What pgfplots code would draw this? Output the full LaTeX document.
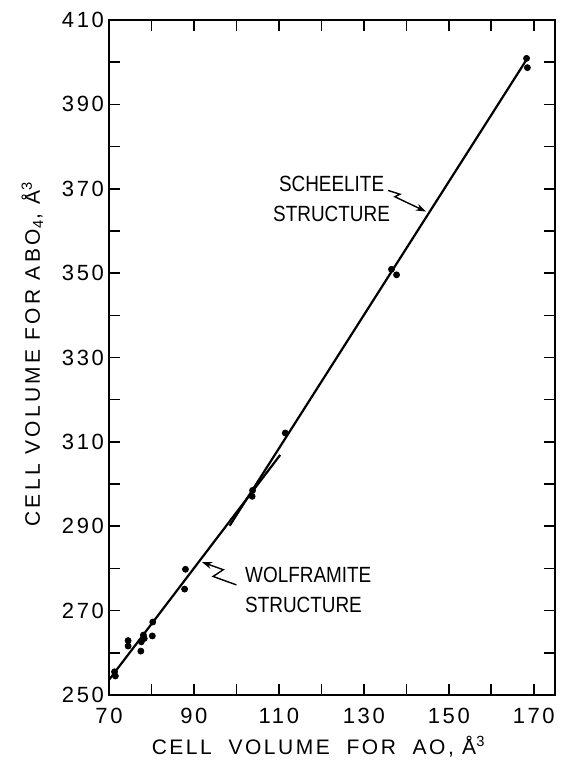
\documentclass[border=0pt]{standalone}
\usepackage{fontspec}
\setmainfont{Liberation Sans}
\newfontfamily\narrowfont[FakeStretch=0.86]{Liberation Sans}
\usepackage{pgfplots}
\pgfplotsset{compat=1.18}
\usetikzlibrary{arrows.meta}
\newcommand{\xlblfont}{\fontsize{10.5}{15}\selectfont\addfontfeature{LetterSpace=12}}
\newcommand{\ylblfont}{\fontsize{10.5}{15}\selectfont\addfontfeature{LetterSpace=16}}
\newcommand{\annfont}{\narrowfont\fontsize{11}{15}\selectfont}
\begin{document}
\begin{tikzpicture}
\begin{axis}[
  scale only axis,
  width=223pt, height=337.5pt,
  xmin=70, xmax=175, ymin=250, ymax=410,
  xtick={70,90,...,170}, minor xtick={80,100,...,160},
  ytick={250,270,...,410}, minor ytick={260,280,...,400},
  tick align=inside, tick pos=both,
  major tick length=5.5pt, minor tick length=5.5pt,
  every tick/.style={black, line width=0.8pt},
  axis line style={line width=0.9pt},
  /pgf/number format/assume math mode=true,
  ticklabel style={font=\fontsize{11}{12}\selectfont\addfontfeature{LetterSpace=12}},
  xticklabel style={yshift=-3pt},
  yticklabel style={xshift=1pt},
  xlabel={CELL\ \ VOLUME\ \ FOR\ \ AO,\ Å\textsuperscript{3}},
  ylabel={CELL VOLUME FOR ABO\textsubscript{4}, Å\textsuperscript{3}},
  xlabel style={at={(axis description cs:0.47,-0.076)}, anchor=center, font=\xlblfont},
  ylabel style={at={(axis description cs:-0.172,0.505)}, anchor=center, font=\ylblfont},
  clip=false,
]
\addplot[only marks, mark=*, mark size=1.5pt, black] coordinates {
 (71.3,255.5) (71.5,254.5) (74.5,262.9) (74.5,261.6) (77.5,260.4)
 (77.6,262.6) (78.1,264.2) (78.3,263.4) (80.2,264.0) (80.3,267.3)
 (88.0,279.8) (87.8,275.1) (103.8,298.5) (103.7,297.1) (111.5,312.1)
 (136.5,350.9) (137.7,349.6) (168.3,400.9) (168.5,398.7)
};
\addplot[no marks, black, line width=1.1pt] coordinates {(70,253.6) (110.3,306.9)};
\addplot[no marks, black, line width=1.1pt] coordinates {(98.4,290.1) (168.3,400.6)};
\draw[-{Stealth[length=5pt,width=3.5pt]}, line width=0.7pt]
  (axis cs:135.7,369.6) -- (axis cs:138.5,368.7) -- (axis cs:137.3,368.1) -- (axis cs:144.6,364.6);
\draw[-{Stealth[length=5pt,width=3.5pt]}, line width=0.7pt]
  (axis cs:100.0,276.1) -- (axis cs:94.5,278.1) -- (axis cs:96.9,279.7) -- (axis cs:91.9,281.5);
\node[align=center, font=\annfont] at (axis cs:122.4,367.5) {SCHEELITE\\STRUCTURE};
\node[align=left, anchor=west, font=\annfont] at (axis cs:100.4,274.9) {WOLFRAMITE\\STRUCTURE};
\end{axis}
\pgfresetboundingbox
\path[use as bounding box] ([xshift=-54.5pt,yshift=-32.5pt]current axis.south west) rectangle ([xshift=3.5pt,yshift=10pt]current axis.north east);
\end{tikzpicture}
\end{document}
